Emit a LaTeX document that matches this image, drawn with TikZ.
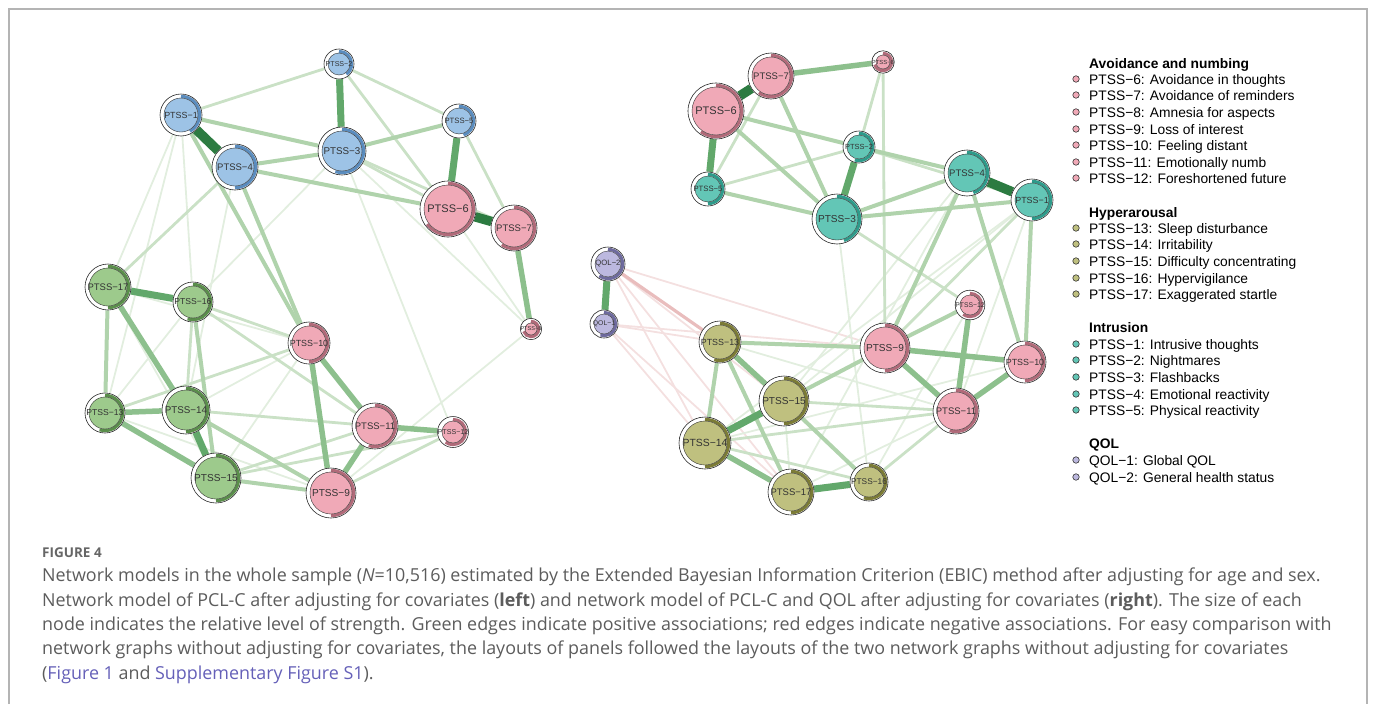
\documentclass[tikz,border=0pt]{standalone}
\usepackage{fontspec}
\setmainfont{Liberation Sans}
\newfontfamily\capfont{Open Sans}
\usetikzlibrary{backgrounds}
\definecolor{blu}{HTML}{9DC3E6}\definecolor{blud}{HTML}{5A8CBE}
\definecolor{pnk}{HTML}{F0A9B7}\definecolor{pnkd}{HTML}{B06A79}
\definecolor{grn}{HTML}{9DCA8C}\definecolor{grnd}{HTML}{5A8E4B}
\definecolor{tea}{HTML}{63C6B6}\definecolor{tead}{HTML}{2E9A8A}
\definecolor{olv}{HTML}{BFC07F}\definecolor{olvd}{HTML}{7B7B36}
\definecolor{lav}{HTML}{BCB8DF}\definecolor{lavd}{HTML}{6E6A9D}
\definecolor{eg1}{HTML}{E2EEDF}\definecolor{eg2}{HTML}{CAE1C6}
\definecolor{eg3}{HTML}{B0D3AC}\definecolor{eg4}{HTML}{8DC08D}
\definecolor{eg5}{HTML}{62A86B}\definecolor{eg6}{HTML}{2C7B41}
\definecolor{er1}{HTML}{F4E0E0}\definecolor{er2}{HTML}{E9BDBD}
\definecolor{capgray}{HTML}{5C5C5C}\definecolor{caplink}{HTML}{6560B8}
\definecolor{framegray}{HTML}{B4B4B4}
\tikzstyle{symnode}=[circle, draw=black!85, line width=0.6pt, fill=white, inner sep=0pt, text=black!80]
\tikzstyle{ew1}=[line width=1.8pt, draw=eg1]
\tikzstyle{ew2}=[line width=2.8pt, draw=eg2]
\tikzstyle{ew3}=[line width=4pt, draw=eg3]
\tikzstyle{ew4}=[line width=5.5pt, draw=eg4]
\tikzstyle{ew5}=[line width=7pt, draw=eg5]
\tikzstyle{ew6}=[line width=9.5pt, draw=eg6]
\tikzstyle{er1}=[line width=1.8pt, draw=er1]
\tikzstyle{er2}=[line width=3.2pt, draw=er2]
\tikzstyle{legdot}=[circle, draw=black!80, line width=0.6pt, minimum size=6.5pt, inner sep=0pt]
\tikzstyle{legtext}=[anchor=base west, inner sep=0pt, font=\fontsize{13.8}{16.6}\selectfont]
\tikzstyle{captext}=[anchor=base west, inner sep=0pt, text=capgray, font=\capfont\fontsize{17.9}{20}\selectfont]
\begin{document}
\begin{tikzpicture}[x=1pt,y=1pt]
\useasboundingbox (0,0) rectangle (1375,-704);
\draw[framegray, line width=1.5pt] (9,-704) -- (9,-9) -- (1367,-9) -- (1367,-704);

% symptom nodes: name/x/y/radius/colour/strength/label
\foreach \nm/\px/\py/\rad/\col/\frc/\lab in {
  L1/181/115/21/blu/0.42/PTSS−1, L2/339/64/15/blu/0.40/PTSS−2, L3/342/151/24/blu/0.55/PTSS−3,
  L4/235/167/23/blu/0.50/PTSS−4, L5/459/121/17/blu/0.45/PTSS−5, L6/448/209/28/pnk/0.65/PTSS−6,
  L7/514/228/23/pnk/0.60/PTSS−7, L8/531/329/10/pnk/0.70/PTSS−8, L9/331/493/25/pnk/0.50/PTSS−9,
  L10/309/343/21/pnk/0.50/PTSS−10, L11/375/426/23/pnk/0.55/PTSS−11, L12/453/432/15/pnk/0.60/PTSS−12,
  L13/105/413/20/grn/0.55/PTSS−13, L14/186/410/24/grn/0.50/PTSS−14, L15/216/478/25/grn/0.50/PTSS−15,
  L16/193/302/20/grn/0.55/PTSS−16, L17/108/287/23/grn/0.50/PTSS−17,
  R1/1032/200/21/tea/0.50/PTSS−1, R2/859/147/16/tea/0.55/PTSS−2, R3/837/219/25/tea/0.45/PTSS−3,
  R4/967/173/23/tea/0.45/PTSS−4, R5/708/189/17/tea/0.50/PTSS−5, R6/716/111/28/pnk/0.60/PTSS−6,
  R7/771/76/23/pnk/0.60/PTSS−7, R8/883/62/11/pnk/0.70/PTSS−8, R9/885/348/25/pnk/0.50/PTSS−9,
  R10/1025/362/21/pnk/0.50/PTSS−10, R11/956/411/23/pnk/0.55/PTSS−11, R12/970/305/14/pnk/0.60/PTSS−12,
  R13/720/342/21/olv/0.55/PTSS−13, R14/705/443/26/olv/0.50/PTSS−14, R15/784/401/25/olv/0.50/PTSS−15,
  R16/869/482/19/olv/0.55/PTSS−16, R17/791/492/23/olv/0.50/PTSS−17,
  Q1/604/324/14/lav/0.55/QOL−1, Q2/608/264/17/lav/0.60/QOL−2}{
  \pgfmathsetmacro{\fs}{0.3*\rad+2.6}
  \node[symnode, minimum size={2*\rad pt}, font=\fontsize{\fs}{\fs}\selectfont,
    path picture={
      \draw[line width=3pt, draw=\col d] ([yshift={\rad pt-2.3pt}]path picture bounding box.center)
        arc[start angle=90, delta angle={-360*\frc}, radius={\rad pt-2.3pt}];
      \filldraw[fill=\col, draw=black!80, line width=0.4pt] (path picture bounding box.center)
        circle[radius={\rad pt-4pt}];}] (\nm) at (\px,-\py) {\lab};
}

\begin{scope}[on background layer]
% left network
\foreach \a/\b in {L3/L12, L3/L8, L1/L17, L1/L16, L3/L16, L8/L9, L6/L8, L1/L13, L13/L9,
  L17/L15, L14/L10, L15/L10, L13/L16, L4/L14, L17/L10}
  \path[ew1] (\a) edge (\b);
\foreach \a/\b in {L1/L2, L2/L5, L2/L6, L3/L6, L5/L7, L16/L14, L16/L10, L13/L10, L14/L11,
  L15/L11, L15/L12, L9/L12, L16/L11, L4/L17, L3/L7}
  \path[ew2] (\a) edge (\b);
\foreach \a/\b in {L1/L3, L4/L3, L3/L5, L4/L6, L17/L13, L16/L15, L14/L9, L15/L9, L4/L10, L1/L10}
  \path[ew3] (\a) edge (\b);
\foreach \a/\b in {L10/L11, L10/L9, L11/L9, L11/L12, L7/L8, L13/L14, L13/L15, L17/L14}
  \path[ew4] (\a) edge (\b);
\foreach \a/\b in {L2/L3, L5/L6, L17/L16, L14/L15}
  \path[ew5] (\a) edge (\b);
\path[ew6] (L1) edge (L4) (L6) edge (L7);
% right network
\foreach \a/\b in {Q2/R9, Q2/R14, Q2/R17, Q2/R15, Q1/R13, Q1/R9, Q1/R14, Q1/R17}
  \path[er1] (\a) edge (\b);
\path[er2] (Q2) edge (R13);
\foreach \a/\b in {R3/R16, R1/R11, R1/R15, R4/R15, R15/R17, R17/R11, R14/R10, R16/R12,
  R4/R17, R1/R14, R13/R11}
  \path[ew1] (\a) edge (\b);
\foreach \a/\b in {R7/R5, R5/R2, R2/R1, R8/R2, R8/R9, R3/R12, R14/R11, R15/R11, R16/R11,
  R14/R16, R1/R9}
  \path[ew2] (\a) edge (\b);
\foreach \a/\b in {R6/R2, R6/R3, R7/R3, R5/R3, R2/R4, R3/R4, R3/R1, R4/R10, R1/R10,
  R13/R14, R9/R15, R15/R16, R13/R9, R9/R12, R4/R9, R13/R17}
  \path[ew3] (\a) edge (\b);
\foreach \a/\b in {R7/R8, R9/R10, R9/R11, R12/R11, R10/R11, R14/R17, R13/R15}
  \path[ew4] (\a) edge (\b);
\foreach \a/\b in {R6/R5, R2/R3, R17/R16, R15/R14, Q2/Q1}
  \path[ew5] (\a) edge (\b);
\path[ew6] (R6) edge (R7) (R4) edge (R1);
\end{scope}

% legend
\foreach \i/\yy/\txt in {a/63/Avoidance and numbing, h/212/Hyperarousal, n/327/Intrusion, q/443/QOL}
  \node[legtext, font=\fontsize{13.8}{16.6}\selectfont\bfseries] (head\i) at (1089,-\yy-5) {\txt};
\foreach \i/\yy/\col/\txt in {
  6/79/pnk/PTSS−6: Avoidance in thoughts, 7/95/pnk/PTSS−7: Avoidance of reminders,
  8/112/pnk/PTSS−8: Amnesia for aspects, 9/129/pnk/PTSS−9: Loss of interest,
  10/145/pnk/PTSS−10: Feeling distant, 11/162/pnk/PTSS−11: Emotionally numb,
  12/178/pnk/PTSS−12: Foreshortened future,
  13/228/olv/PTSS−13: Sleep disturbance, 14/244/olv/PTSS−14: Irritability,
  15/261/olv/PTSS−15: Difficulty concentrating, 16/278/olv/PTSS−16: Hypervigilance,
  17/294/olv/PTSS−17: Exaggerated startle,
  1/344/tea/PTSS−1: Intrusive thoughts, 2/360/tea/PTSS−2: Nightmares,
  3/377/tea/PTSS−3: Flashbacks, 4/394/tea/PTSS−4: Emotional reactivity,
  5/410/tea/PTSS−5: Physical reactivity,
  q1/460/lav/QOL−1: Global QOL, q2/477/lav/QOL−2: General health status}{
  \node[legdot, fill=\col] (dot\i) at (1076,-\yy) {};
  \node[legtext] (item\i) at (1089,-\yy-5) {\txt};
}

% caption
\node[captext, text=black!60, font=\capfont\fontsize{13.5}{15}\selectfont\bfseries] (fig) at (42,-557) {FIGURE 4};
\node[captext] (cap1) at (42,-581.5) {Network models in the whole sample (\emph{N}=10,516) estimated by the Extended Bayesian Information Criterion (EBIC) method after adjusting for age and sex.};
\node[captext] (cap2) at (42,-606) {Network model of PCL-C after adjusting for covariates (\textbf{left}) and network model of PCL-C and QOL after adjusting for covariates (\textbf{right}). The size of each};
\node[captext] (cap3) at (42,-630) {node indicates the relative level of strength. Green edges indicate positive associations; red edges indicate negative associations. For easy comparison with};
\node[captext] (cap4) at (42,-654.5) {network graphs without adjusting for covariates, the layouts of panels followed the layouts of the two network graphs without adjusting for covariates};
\node[captext] (cap5) at (42,-679) {(\textcolor{caplink}{Figure 1} and \textcolor{caplink}{Supplementary Figure S1}).};
\end{tikzpicture}
\end{document}
